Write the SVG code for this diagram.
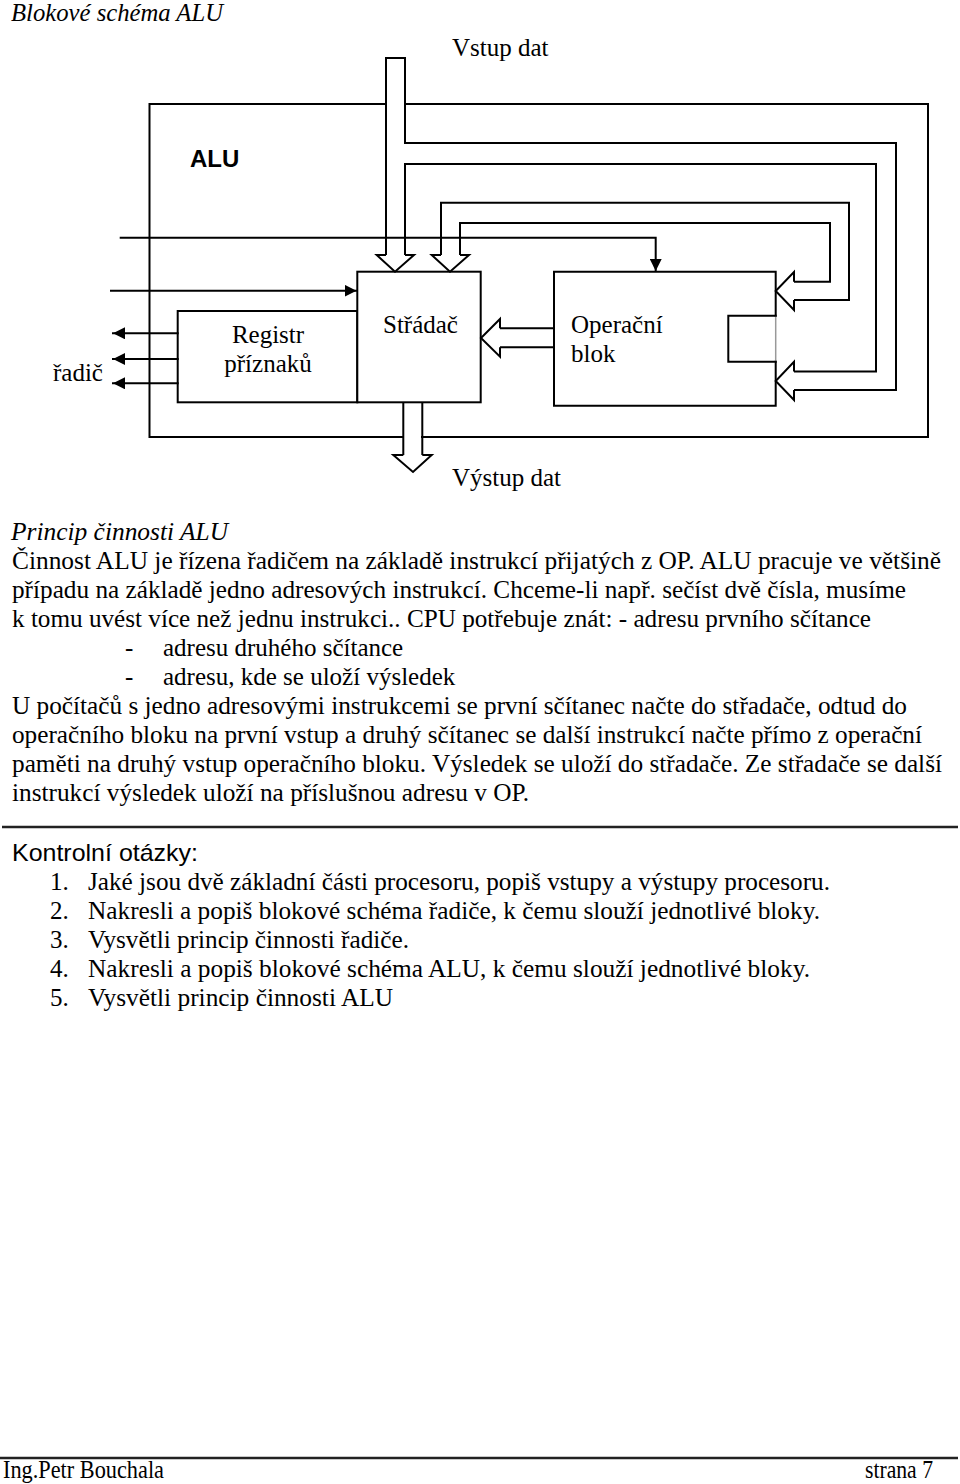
<svg xmlns="http://www.w3.org/2000/svg" width="960" height="1484" viewBox="0 0 960 1484">
<defs>
<style>
.ln{fill:none;stroke:#000;stroke-width:2;stroke-linecap:square}
.box{fill:#fff;stroke:#000;stroke-width:2}
.hol{fill:#fff;stroke:#000;stroke-width:2;stroke-linejoin:miter}
.t{font-family:"Liberation Serif","Times New Roman",serif;font-size:25px;fill:#000}
.ti{font-family:"Liberation Serif","Times New Roman",serif;font-size:25px;font-style:italic;fill:#000}
.s{font-family:"Liberation Sans",Arial,sans-serif;fill:#000}
.rule{stroke:#222;stroke-width:2.5}
</style>
<marker id="ah" viewBox="0 0 12 12" refX="12" refY="6" markerWidth="12" markerHeight="12" markerUnits="userSpaceOnUse" orient="auto">
<path d="M0,0 L12,6 L0,12 Z" fill="#000"/>
</marker>
</defs>
<rect width="960" height="1484" fill="#fff"/>

<text class="ti" x="11" y="21" textLength="212" lengthAdjust="spacingAndGlyphs">Blokové schéma ALU</text>

<g id="alu">
<path class="ln" d="M386,104 H149.5 V437 H403 M422,437 H928 V104 H405"/>
<text class="s" x="190" y="167" font-size="24" font-weight="bold">ALU</text>
</g>

<g id="registr">
<rect class="box" x="177.7" y="311" width="179.6" height="91.3"/>
<text class="t" x="268" y="343" text-anchor="middle">Registr</text>
<text class="t" x="268" y="372" text-anchor="middle">příznaků</text>
</g>

<g id="stradac">
<rect class="box" x="357.3" y="271.7" width="123.4" height="130.6"/>
<text class="t" x="383" y="333">Střádač</text>
</g>

<g id="operacni">
<path class="ln" d="M775.7,315.7 V271.7 H554 V405.7 H775.7 V361.7"/>
<path d="M775.7,315.7 V361.7" stroke="#999" stroke-width="1.5" fill="none"/>
<path class="ln" d="M775.7,315.7 H728.3 V361.7 H775.7"/>
<text class="t" x="571" y="333">Operační</text>
<text class="t" x="571" y="362">blok</text>
</g>

<g id="labels">
<text class="t" x="452" y="56">Vstup dat</text>
<text class="t" x="452" y="486">Výstup dat</text>
<text class="t" x="53" y="381">řadič</text>
</g>

<g id="connectors">
<path class="ln" d="M386,255 V58 H405 V143 H896 V390 H794"/>
<path class="ln" d="M405,255 V164 H876 V371.6 H794"/>
<path class="hol" d="M386,255 H376.7 L395,271.7 L414,255 H405"/>
<path class="hol" d="M794,371.6 V361.7 L775.7,381 L794,400 V390"/>
<path class="ln" d="M441,255 V202.7 H849 V300 H794"/>
<path class="ln" d="M460,255 V223 H830 V281.7 H794"/>
<path class="hol" d="M441,255 H431.7 L450,271.7 L469,255 H460"/>
<path class="hol" d="M794,281.7 V272 L775.7,291 L794,310 V300"/>
<path class="ln" d="M554,328.3 H500 M554,347.3 H500"/>
<path class="hol" d="M500,328.3 V319 L481,338 L500,356.7 V347.3"/>
<path class="ln" d="M403.3,403 V455 M422.3,403 V455"/>
<path class="hol" d="M403.3,455 H393.3 L413,472 L431.7,455 H422.3"/>
<path class="ln" d="M120.7,237.7 H655.7 V271" marker-end="url(#ah)"/>
<path class="ln" d="M111,290.7 H356.5" marker-end="url(#ah)"/>
<path class="ln" d="M177.7,333.3 H113" marker-end="url(#ah)"/>
<path class="ln" d="M177.7,359 H113" marker-end="url(#ah)"/>
<path class="ln" d="M177.7,383.3 H113" marker-end="url(#ah)"/>
</g>

<g id="text-body">
<text class="ti" x="11" y="540" textLength="217" lengthAdjust="spacingAndGlyphs">Princip činnosti ALU</text>
<text class="t" x="12" y="569" textLength="929" lengthAdjust="spacingAndGlyphs">Činnost ALU je řízena řadičem na základě instrukcí přijatých z OP. ALU pracuje ve většině</text>
<text class="t" x="12" y="598" textLength="894" lengthAdjust="spacingAndGlyphs">případu na základě jedno adresových instrukcí. Chceme-li např. sečíst dvě čísla, musíme</text>
<text class="t" x="12" y="627" textLength="859" lengthAdjust="spacingAndGlyphs">k tomu uvést více než jednu instrukci.. CPU potřebuje znát: - adresu prvního sčítance</text>
<text class="t" x="125" y="656">-</text>
<text class="t" x="163" y="656">adresu druhého sčítance</text>
<text class="t" x="125" y="685">-</text>
<text class="t" x="163" y="685">adresu, kde se uloží výsledek</text>
<text class="t" x="12" y="714" textLength="895" lengthAdjust="spacingAndGlyphs">U počítačů s jedno adresovými instrukcemi se první sčítanec načte do střadače, odtud do</text>
<text class="t" x="12" y="743" textLength="910" lengthAdjust="spacingAndGlyphs">operačního bloku na první vstup a druhý sčítanec se další instrukcí načte přímo z operační</text>
<text class="t" x="12" y="772" textLength="930" lengthAdjust="spacingAndGlyphs">paměti na druhý vstup operačního bloku. Výsledek se uloží do střadače. Ze střadače se další</text>
<text class="t" x="12" y="801" textLength="517" lengthAdjust="spacingAndGlyphs">instrukcí výsledek uloží na příslušnou adresu v OP.</text>
<line class="rule" x1="2" y1="827" x2="958" y2="827"/>
<text class="s" x="12" y="861" font-size="24" textLength="186" lengthAdjust="spacingAndGlyphs">Kontrolní otázky:</text>
<text class="t" x="50" y="890">1.</text>
<text class="t" x="88" y="890" textLength="742" lengthAdjust="spacingAndGlyphs">Jaké jsou dvě základní části procesoru, popiš vstupy a výstupy procesoru.</text>
<text class="t" x="50" y="919">2.</text>
<text class="t" x="88" y="919" textLength="732" lengthAdjust="spacingAndGlyphs">Nakresli a popiš blokové schéma řadiče, k čemu slouží jednotlivé bloky.</text>
<text class="t" x="50" y="948">3.</text>
<text class="t" x="88" y="948" textLength="321" lengthAdjust="spacingAndGlyphs">Vysvětli princip činnosti řadiče.</text>
<text class="t" x="50" y="977">4.</text>
<text class="t" x="88" y="977" textLength="722" lengthAdjust="spacingAndGlyphs">Nakresli a popiš blokové schéma ALU, k čemu slouží jednotlivé bloky.</text>
<text class="t" x="50" y="1006">5.</text>
<text class="t" x="88" y="1006" textLength="305" lengthAdjust="spacingAndGlyphs">Vysvětli princip činnosti ALU</text>
</g>

<g id="footer">
<line class="rule" x1="0" y1="1458" x2="958" y2="1458"/>
<text class="t" x="3" y="1478" font-size="21" textLength="161" lengthAdjust="spacingAndGlyphs">Ing.Petr Bouchala</text>
<text class="t" x="865" y="1478" font-size="21" textLength="68" lengthAdjust="spacingAndGlyphs">strana 7</text>
</g>
</svg>
